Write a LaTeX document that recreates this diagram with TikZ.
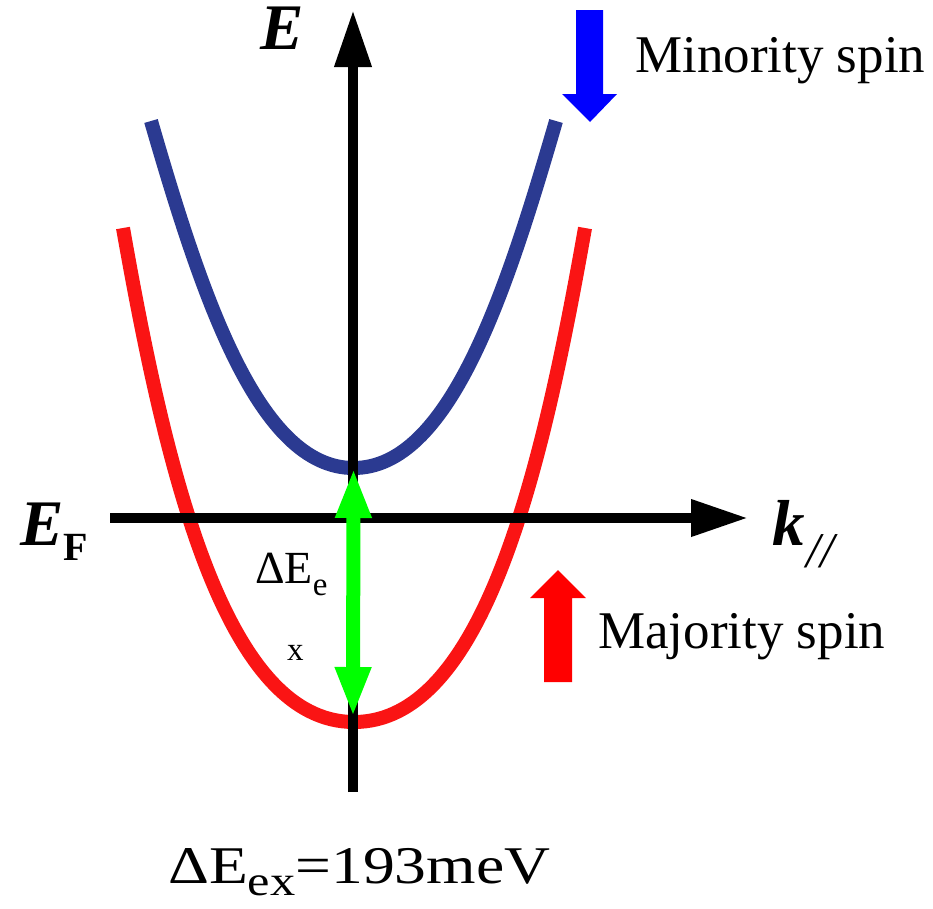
\documentclass[tikz,border=0pt]{standalone}
\usepackage{fontspec}
\setmainfont{Liberation Serif}
\usetikzlibrary{arrows.meta}
\definecolor{minblue}{RGB}{43,58,145}
\definecolor{majred}{RGB}{250,20,20}
\definecolor{arrblue}{RGB}{0,0,255}
\definecolor{arrred}{RGB}{255,0,0}
\definecolor{gapgreen}{RGB}{0,255,0}
\newcommand{\fsz}[1]{\fontsize{#1}{#1}\selectfont}
\tikzset{
  axis/.style={line width=10pt, -{Triangle[length=57pt,width=35pt]}},
  band/.style={line width=14pt, line cap=butt},
  gap/.style={line width=14pt, gapgreen, {Triangle[length=50pt,width=33pt]}-{Triangle[length=50pt,width=33pt]}},
  lbl/.style={inner sep=0pt, anchor=base west},
}
\begin{document}
\begin{tikzpicture}[x=1pt,y=-1pt]
\useasboundingbox (0,0) rectangle (933,908);
% coordinates
\coordinate (vbot) at (353,792);
\coordinate (vtop) at (353,10);
\coordinate (hl) at (110,518);
\coordinate (hr) at (748,518);
\coordinate (bl) at (151,121);
\coordinate (bv) at (353.5,468);
\coordinate (br) at (556,121);
\coordinate (rl) at (123,228);
\coordinate (rv) at (354,722);
\coordinate (rr) at (585,228);
\coordinate (gb) at (353,717);
% bands
\draw[band, majred] (rl) .. controls (167,478) and (226,722) .. (rv)
                         .. controls (482,722) and (541,478) .. (rr);
\draw[band, minblue] (bl) .. controls (202,297) and (258.5,468) .. (bv)
                          .. controls (448.5,468) and (505,297) .. (br);
% axes
\draw[axis] (vbot) -- (vtop);
\draw[axis] (hl) -- (hr);
% exchange gap arrow
\draw[gap] (bv) -- (gb);
% spin arrows
\fill[arrblue] (576,10) -- (603,10) -- (603,94) -- (617,94) -- (590,122) -- (562,94) -- (576,94) -- cycle;
\fill[arrred] (544,682) -- (572,682) -- (572,598) -- (586,598) -- (558,570) -- (530,598) -- (544,598) -- cycle;
% labels
\node[lbl] (Elab) at (260,49) {\raisebox{0pt}[44pt][0pt]{\fsz{65}\bfseries\itshape E}};
\node[lbl] (EF) at (20,545) {\fsz{65}\bfseries\itshape E\raisebox{-15pt}{\fsz{40}\upshape F}};
\node[lbl] (klab) at (772,545) {\fsz{65}\bfseries\itshape k\hspace{2pt}\raisebox{-22pt}{\fsz{50}\mdseries //}};
\node[lbl] (minor) at (635,72) {\fsz{53}Minority spin};
\node[lbl] (major) at (598,648) {\fsz{53}Majority spin};
\node[lbl] (dEe) at (255,583) {\fsz{46}ΔE\raisebox{-12pt}{\fsz{33}e}};
\node[lbl] (dEx) at (287,660) {\fsz{33}x};
\node[lbl] (val) at (168,883) {\scalebox{1.2}[1]{\fsz{53}ΔE\raisebox{-12pt}{\fsz{42}ex}=193meV}};
\end{tikzpicture}
\end{document}
